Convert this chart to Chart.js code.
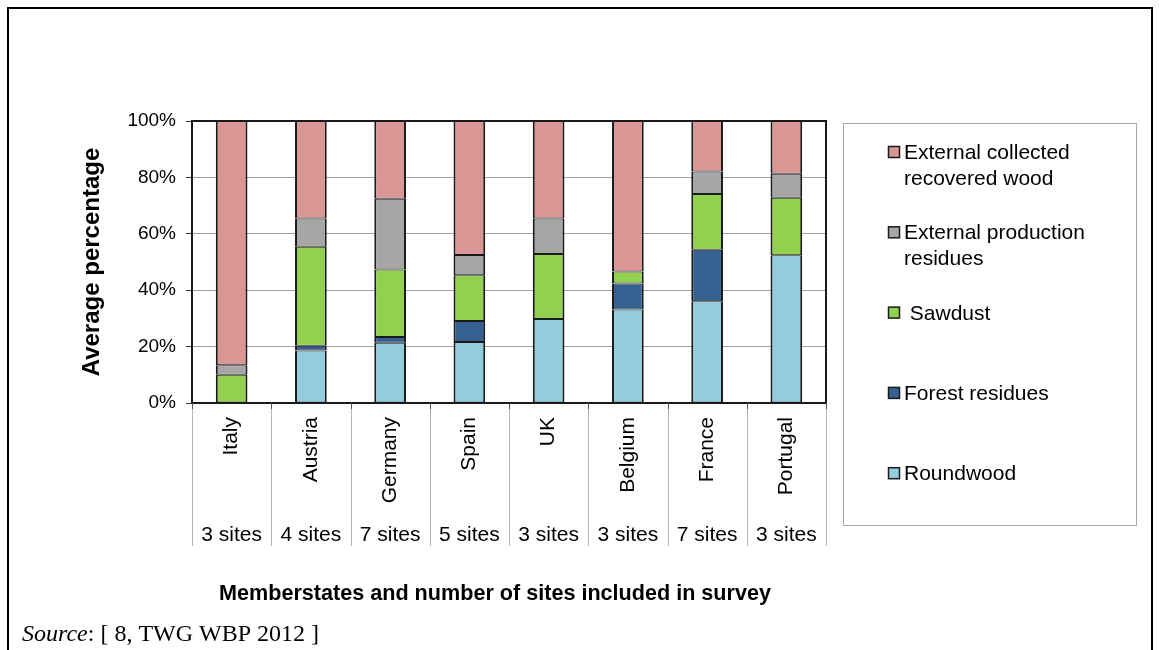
<!DOCTYPE html>
<html>
<head>
<meta charset="utf-8">
<script src="https://cdn.jsdelivr.net/npm/chart.js@4.4.1/dist/chart.umd.min.js"></script>
<style>
  html, body { margin: 0; padding: 0; background: #ffffff; }
  #wrap { position: relative; width: 1159px; height: 650px; }
  canvas { display: block; }
</style>
</head>
<body>
<div id="wrap"><canvas id="chart" width="1159" height="650"></canvas></div>
<script>
// Member states and number of sites surveyed
const categories = ['Italy', 'Austria', 'Germany', 'Spain', 'UK', 'Belgium', 'France', 'Portugal'];
const siteCounts = ['3 sites', '4 sites', '7 sites', '5 sites', '3 sites', '3 sites', '7 sites', '3 sites'];

// Average percentage of each wood source (stacked bottom to top)
const roundwood          = [null, 18.6, 21.4, 21.6, 29.8, 33.2, 36.1, 52.4];
const forestResidues     = [null, 1.7, 2.0, 7.5, null, 9.2, 18.2, null];
const sawdust            = [10.0, 35.1, 23.9, 16.2, 23.0, 4.2, 19.8, 20.4];
const productionResidues = [3.4, 10.0, 25.1, 7.2, 12.6, null, 8.0, 8.5];
const recoveredWood      = [86.6, 34.6, 27.6, 47.5, 34.6, 53.4, 17.9, 18.7];

// Legend texts (one entry per line)
const seriesLabels = [
  ['Roundwood'],
  ['Forest residues'],
  [' Sawdust'],
  ['External production', 'residues'],
  ['External collected', 'recovered wood']
];
const seriesColors = ['#93CDDD', '#376092', '#92D050', '#A6A6A6', '#D99694'];
const yTicks = [0, 20, 40, 60, 80, 100];
const xTitle = 'Memberstates and number of sites included in survey';

const seriesData = [roundwood, forestResidues, sawdust, productionResidues, recoveredWood];

const FONT = '"Liberation Sans", Arial, sans-serif';
const SERIF = '"Liberation Serif", "Times New Roman", serif';

const datasets = seriesData.map((d, i) => ({
  label: seriesLabels[i].join(' '),
  data: d,
  backgroundColor: seriesColors[i],
  borderColor: '#1a1a1a',
  borderWidth: { left: 2, right: 2, top: 1, bottom: 1 },
  borderSkipped: false,
  barPercentage: 0.4,
  categoryPercentage: 1.0
}));

// Frame, plot border, category separators, site counts, axis title, legend box and source line
const decorations = {
  id: 'decorations',
  beforeDraw(chart) {
    const ctx = chart.ctx;
    ctx.save();
    ctx.fillStyle = '#ffffff';
    ctx.fillRect(0, 0, chart.width, chart.height);
    ctx.strokeStyle = '#000000';
    ctx.lineWidth = 2;
    ctx.beginPath();
    ctx.moveTo(8, 660);
    ctx.lineTo(8, 8);
    ctx.lineTo(1152, 8);
    ctx.lineTo(1152, 660);
    ctx.stroke();
    ctx.restore();
  },
  afterDraw(chart) {
    const ctx = chart.ctx;
    const area = chart.chartArea;
    const x = chart.scales.x;
    const n = categories.length;
    const step = (area.right - area.left) / n;

    ctx.save();
    // plot border
    ctx.strokeStyle = '#1a1a1a';
    ctx.lineWidth = 2;
    ctx.strokeRect(area.left, area.top, area.right - area.left, area.bottom - area.top);

    // separators below the axis
    ctx.strokeStyle = '#b4b4b4';
    ctx.lineWidth = 1;
    for (let i = 0; i <= n; i++) {
      const px = Math.round(area.left + i * step) + 0.5;
      ctx.beginPath();
      ctx.moveTo(px, area.bottom + 1);
      ctx.lineTo(px, 546);
      ctx.stroke();
    }
    // short tick marks at the axis
    ctx.strokeStyle = '#555555';
    for (let i = 0; i <= n; i++) {
      const px = Math.round(area.left + i * step) + 0.5;
      ctx.beginPath();
      ctx.moveTo(px, area.bottom);
      ctx.lineTo(px, area.bottom + 6);
      ctx.stroke();
    }

    // site counts
    ctx.fillStyle = '#000000';
    ctx.font = '21px ' + FONT;
    ctx.textAlign = 'center';
    ctx.textBaseline = 'alphabetic';
    siteCounts.forEach((s, i) => {
      ctx.fillText(s, x.getPixelForValue(i), 541);
    });

    // x axis title
    ctx.font = 'bold 21.6px ' + FONT;
    ctx.fillText(xTitle, 495, 600);

    // legend
    const lx = 843, ly = 123, lw = 293, lh = 402;
    ctx.strokeStyle = '#a6a6a6';
    ctx.lineWidth = 1;
    ctx.strokeRect(lx + 0.5, ly + 0.5, lw, lh);
    ctx.font = '21px ' + FONT;
    ctx.textAlign = 'left';
    ctx.textBaseline = 'alphabetic';
    const order = [4, 3, 2, 1, 0];
    order.forEach((si, k) => {
      const cy = 152 + k * 80.3;
      ctx.fillStyle = seriesColors[si];
      ctx.fillRect(888.5, cy - 5.5, 11, 11);
      ctx.strokeStyle = '#1a1a1a';
      ctx.lineWidth = 1.5;
      ctx.strokeRect(888.5, cy - 5.5, 11, 11);
      ctx.fillStyle = '#000000';
      seriesLabels[si].forEach((line, j) => {
        ctx.fillText(line, 904, cy + 7 + j * 25.5);
      });
    });

    // source line
    ctx.fillStyle = '#000000';
    ctx.textAlign = 'left';
    ctx.font = 'italic 24px ' + SERIF;
    ctx.fillText('Source', 22, 641);
    const w = ctx.measureText('Source').width;
    ctx.font = '24px ' + SERIF;
    ctx.fillText(': [ 8, TWG WBP 2012 ]', 22 + w, 641);
    ctx.restore();
  }
};

new Chart(document.getElementById('chart'), {
  type: 'bar',
  data: { labels: categories, datasets },
  options: {
    responsive: false,
    animation: false,
    layout: { padding: { left: 0, right: 333, top: 121, bottom: 0 } },
    plugins: {
      legend: { display: false },
      tooltip: { enabled: false },
      title: { display: false }
    },
    scales: {
      x: {
        stacked: true,
        afterFit(scale) { scale.height = 247; },
        grid: { display: false, drawTicks: false },
        border: { display: false },
        ticks: {
          autoSkip: false,
          minRotation: 90,
          maxRotation: 90,
          padding: 14,
          color: '#000000',
          font: { family: FONT, size: 21 }
        },
        title: { display: false }
      },
      y: {
        stacked: true,
        min: 0,
        max: 100,
        afterFit(scale) { scale.width = 192; },
        afterBuildTicks(scale) { scale.ticks = yTicks.map(v => ({ value: v })); },
        grid: { color: '#a0a0a0', lineWidth: 1, tickLength: 6, tickColor: '#444444' },
        border: { display: false },
        ticks: {
          padding: 10,
          color: '#000000',
          font: { family: FONT, size: 19 },
          callback: v => v + '%'
        },
        title: {
          display: true,
          text: 'Average percentage',
          color: '#000000',
          font: { family: FONT, size: 24, weight: 'bold' },
          padding: { top: 78, bottom: 0 }
        }
      }
    }
  },
  plugins: [decorations]
});
</script>
</body>
</html>
